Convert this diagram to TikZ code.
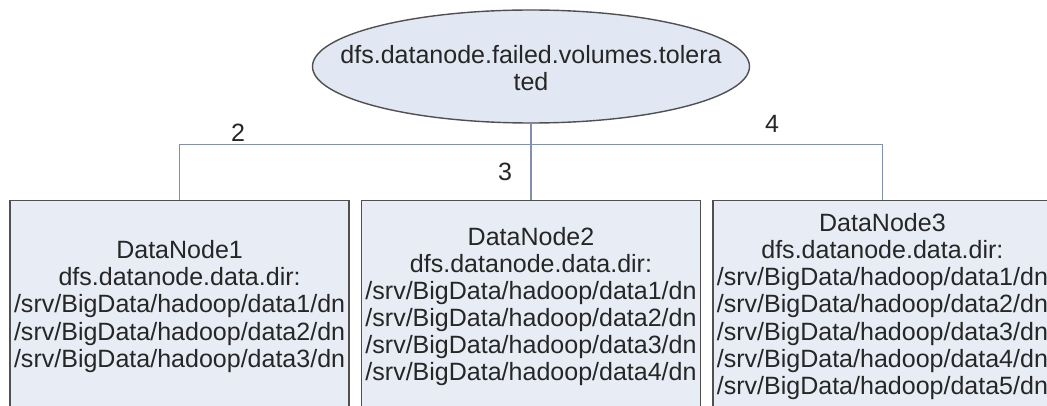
\documentclass[tikz,border=0pt]{standalone}
\usepackage{fontspec}
\setmainfont{Liberation Sans}
\usepackage{xcolor}
\usepackage{tikz}
\usetikzlibrary{positioning, shapes.geometric}

\definecolor{nodefill}{HTML}{E8EDF5}
\definecolor{rootfill}{HTML}{E2E8F3}
\definecolor{edgegray}{HTML}{505050}
\definecolor{linkblue}{HTML}{8090AE}
\definecolor{textgray}{HTML}{262626}

\begin{document}
\begin{tikzpicture}[
        node distance=1.9cm and 0.275cm,
        every node/.style={font=\fontsize{17.8pt}{19.3pt}\selectfont, text=textgray},
        rootnode/.style={draw=edgegray, ellipse, fill=rootfill, line width=1pt,
            minimum width=10.925cm, minimum height=2.825cm, inner sep=0pt},
        dnbox/.style={draw=edgegray, fill=nodefill, line width=1pt, align=center,
            minimum width=8.475cm, minimum height=5.3cm, inner sep=0pt},
        link/.style={draw=linkblue, line width=0.9pt},
        numlabel/.style={inner sep=1pt},
    ]

    \clip (0,0) rectangle (26.175,10.125);
    \fill[white] (0,0) rectangle (26.175,10.125);

    %% ===== Config key =====
    \node[rootnode, label={[align=center, yshift=-1pt]center:dfs.datanode.failed.volumes.tolera\\ted}] (root) at (13.275,8.4625) {};

    %% ===== DataNodes =====
    \node[dnbox, below=of root] (dn2) {DataNode2\\dfs.datanode.data.dir:\\/srv/BigData/hadoop/data1/dn\\/srv/BigData/hadoop/data2/dn\\/srv/BigData/hadoop/data3/dn\\/srv/BigData/hadoop/data4/dn};
    \node[dnbox, left=of dn2] (dn1) {DataNode1\\dfs.datanode.data.dir:\\/srv/BigData/hadoop/data1/dn\\/srv/BigData/hadoop/data2/dn\\/srv/BigData/hadoop/data3/dn};
    \node[dnbox, right=of dn2] (dn3) {DataNode3\\dfs.datanode.data.dir:\\/srv/BigData/hadoop/data1/dn\\/srv/BigData/hadoop/data2/dn\\/srv/BigData/hadoop/data3/dn\\/srv/BigData/hadoop/data4/dn\\/srv/BigData/hadoop/data5/dn};

    %% ===== Tree links =====
    \coordinate (fork) at ([yshift=-0.525cm]root.south);
    \draw[link] (root.south) -- (dn2.north);
    \draw[link] (dn1.north) |- (fork) -| (dn3.north);

    %% ===== Tolerated counts =====
    \node[numlabel] (n2) at (5.95,6.8) {2};
    \node[numlabel] (n3) at (12.625,5.825) {3};
    \node[numlabel] (n4) at (19.3,7.025) {4};

\end{tikzpicture}
\end{document}
